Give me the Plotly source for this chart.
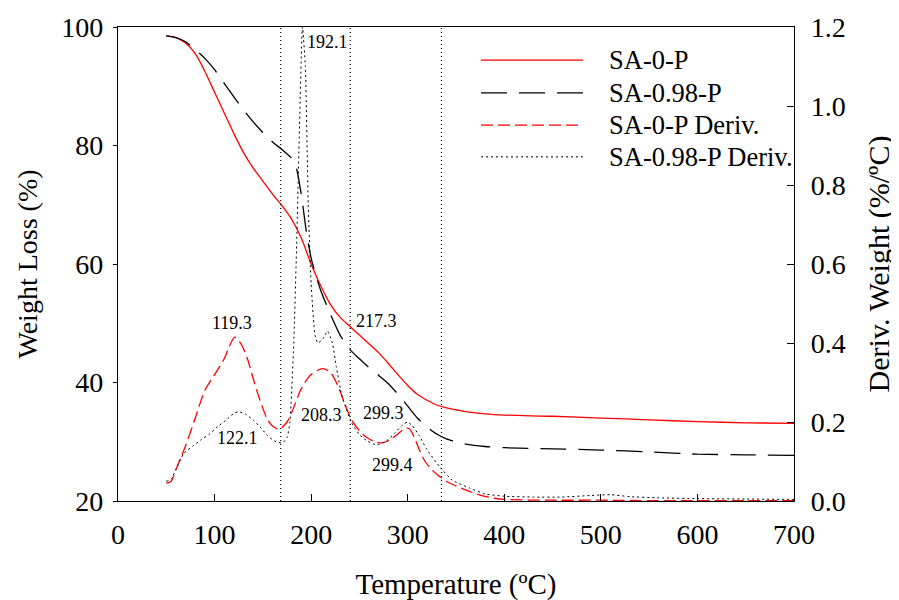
import plotly.graph_objects as go

# ---- data ----
t_tg = [50, 60, 70, 80, 90, 100, 110, 120, 130, 140, 150, 160, 170, 180, 190, 200,
        210, 220, 230, 240, 250, 260, 270, 280, 290, 300, 310, 320, 330, 340, 350,
        360, 380, 400, 450, 500, 550, 600, 650, 700]
sa0_w = [98.5, 98.2, 97.3, 95.5, 92.5, 89.0, 85.5, 82.0, 78.8, 76.2, 74.0, 71.8, 69.8,
         67.5, 64.3, 60.0, 56.3, 53.2, 51.0, 49.5, 48.0, 46.5, 45.0, 43.2, 41.3, 39.5,
         38.0, 37.0, 36.2, 35.7, 35.4, 35.1, 34.7, 34.5, 34.3, 34.0, 33.7, 33.4, 33.2, 33.1]

t_tg2 = [50, 60, 70, 80, 90, 100, 110, 120, 130, 140, 150, 160, 170, 180, 185, 190, 195,
         200, 205, 210, 220, 230, 240, 250, 260, 270, 280, 290, 300, 310, 320, 330, 340,
         350, 360, 380, 400, 450, 500, 550, 600, 650, 700]
sa098_w = [98.5, 98.2, 97.5, 96.2, 94.7, 92.8, 90.5, 88.2, 86.0, 84.0, 82.2, 80.6, 79.3,
           77.8, 76.0, 71.5, 65.5, 61.0, 58.0, 55.5, 51.5, 48.0, 45.6, 44.0, 42.5, 41.2,
           39.8, 38.0, 36.0, 34.0, 32.5, 31.3, 30.5, 30.0, 29.6, 29.2, 29.0, 28.8, 28.6,
           28.3, 27.9, 27.8, 27.7]

t_d0 = [50, 55, 60, 70, 80, 90, 100, 110, 115, 121, 128, 134, 140, 145, 150, 155, 160,
        167, 175, 180, 190, 200, 212, 220, 228, 235, 242, 250, 258, 266, 273, 282, 291,
        298, 302, 307, 312, 318, 325, 332, 340, 350, 360, 375, 390, 400, 450, 500, 550,
        600, 650, 700]
sa0_d = [0.045, 0.05, 0.08, 0.14, 0.21, 0.28, 0.32, 0.36, 0.39, 0.415, 0.395, 0.36, 0.31,
         0.27, 0.235, 0.205, 0.19, 0.182, 0.2, 0.225, 0.285, 0.32, 0.335, 0.325, 0.29,
         0.245, 0.205, 0.178, 0.16, 0.15, 0.147, 0.155, 0.172, 0.185, 0.182, 0.16, 0.13,
         0.1, 0.079, 0.064, 0.05, 0.038, 0.028, 0.015, 0.007, 0.004, 0.002, 0.002, 0.001,
         0.001, 0.001, 0.001]

t_d98 = [50, 55, 60, 68, 78, 86, 95, 103, 112, 120, 125, 132, 140, 148, 155, 162, 170,
         175, 178, 182, 185, 188, 191, 194, 197, 200, 204, 207, 212, 217, 222, 226, 232,
         242, 250, 258, 268, 278, 287, 295, 300, 305, 312, 320, 333, 346, 364, 380, 400,
         430, 460, 490, 510, 530, 560, 600, 650, 700]
sa098_d = [0.05, 0.055, 0.08, 0.12, 0.14, 0.155, 0.17, 0.188, 0.205, 0.222, 0.226, 0.22,
           0.205, 0.185, 0.165, 0.152, 0.147, 0.16, 0.2, 0.4, 0.65, 0.95, 1.2, 1.1, 0.75,
           0.55, 0.42, 0.40, 0.41, 0.43, 0.40, 0.34, 0.265, 0.198, 0.168, 0.152, 0.142,
           0.152, 0.173, 0.193, 0.2, 0.19, 0.165, 0.13, 0.087, 0.053, 0.033, 0.018, 0.012,
           0.01, 0.01, 0.014, 0.016, 0.011, 0.008, 0.006, 0.005, 0.004]

vlines = [168.5, 240.5, 335]

peak_labels = ["192.1", "119.3", "217.3", "122.1", "208.3", "299.3", "299.4"]
peak_lx = [217, 118, 268, 124, 211, 275, 284]
peak_ly = [1.162, 0.45, 0.455, 0.16, 0.218, 0.223, 0.091]

names = ["SA-0-P", "SA-0.98-P", "SA-0-P Deriv.", "SA-0.98-P Deriv."]
colors = ["#ff0000", "#000000", "#ff0000", "#000000"]
dashes = ["solid", "26px,12px", "12px,5px", "2px,3px"]
widths = [1.3, 1.3, 1.3, 1.0]

FONT = "Liberation Serif, Times New Roman, serif"

fig = go.Figure()
fig.add_trace(go.Scatter(x=t_tg, y=sa0_w, name=names[0], mode="lines",
                         line=dict(color=colors[0], width=widths[0], dash=dashes[0],
                                   shape="spline", smoothing=0.8), yaxis="y"))
fig.add_trace(go.Scatter(x=t_tg2, y=sa098_w, name=names[1], mode="lines",
                         line=dict(color=colors[1], width=widths[1], dash=dashes[1],
                                   shape="spline", smoothing=0.6), yaxis="y"))
fig.add_trace(go.Scatter(x=t_d0, y=sa0_d, name=names[2], mode="lines",
                         line=dict(color=colors[2], width=widths[2], dash=dashes[2],
                                   shape="spline", smoothing=0.8), yaxis="y2"))
fig.add_trace(go.Scatter(x=t_d98, y=sa098_d, name=names[3], mode="lines",
                         line=dict(color=colors[3], width=widths[3], dash=dashes[3],
                                   shape="spline", smoothing=0.5), yaxis="y2"))

for xv in vlines:
    fig.add_shape(type="line", xref="x", yref="paper", x0=xv, x1=xv, y0=0, y1=1,
                  line=dict(color="black", width=1.2, dash="1px,3px"))

for txt, lx, ly in zip(peak_labels, peak_lx, peak_ly):
    fig.add_annotation(x=lx, y=ly, xref="x", yref="y2", text=txt, showarrow=False,
                       font=dict(family=FONT, size=18, color="black"))

# manual legend (long sample lines as in the reference)
leg_y = [0.930, 0.861, 0.793, 0.726]
for i in range(4):
    fig.add_shape(type="line", xref="paper", yref="paper", x0=0.537, x1=0.688,
                  y0=leg_y[i], y1=leg_y[i],
                  line=dict(color=colors[i], width=widths[i], dash=dashes[i]))
    fig.add_annotation(x=0.724, y=leg_y[i], xref="paper", yref="paper", text=names[i],
                       showarrow=False, xanchor="left", yanchor="middle",
                       font=dict(family=FONT, size=26.5, color="black"))

fig.update_layout(
    width=899, height=600,
    margin=dict(l=110, r=113, t=19, b=107, autoexpand=False),
    paper_bgcolor="white", plot_bgcolor="white",
    showlegend=False,
    font=dict(family=FONT, size=28, color="black"),
    xaxis=dict(range=[0, 700], tickvals=[0, 100, 200, 300, 400, 500, 600, 700],
               ticks="inside", ticklen=7, tickwidth=1, tickcolor="black",
               showline=True, linecolor="black", linewidth=1.2, mirror=True,
               showgrid=False, zeroline=False, ticklabelstandoff=8,
               title=dict(text="Temperature (ºC)", standoff=24, font=dict(size=29)),
               tickfont=dict(size=28)),
    yaxis=dict(range=[20, 100], tickvals=[20, 40, 60, 80, 100],
               ticks="outside", ticklen=4, tickwidth=1, tickcolor="black",
               showline=True, linecolor="black", linewidth=1.2,
               showgrid=False, zeroline=False, ticklabelstandoff=4,
               title=dict(text="Weight Loss (%)", standoff=15, font=dict(size=28)),
               tickfont=dict(size=28)),
    yaxis2=dict(range=[0, 1.2], tickvals=[0, 0.2, 0.4, 0.6, 0.8, 1.0, 1.2],
                ticktext=["0.0", "0.2", "0.4", "0.6", "0.8", "1.0", "1.2"],
                overlaying="y", side="right",
                ticks="inside", ticklen=7, tickwidth=1, tickcolor="black",
                showline=True, linecolor="black", linewidth=1.2,
                showgrid=False, zeroline=False, ticklabelstandoff=10,
                title=dict(text="Deriv. Weight (%/ºC)", standoff=23, font=dict(size=30)),
                tickfont=dict(size=28)),
)

fig.write_html("out.html")
